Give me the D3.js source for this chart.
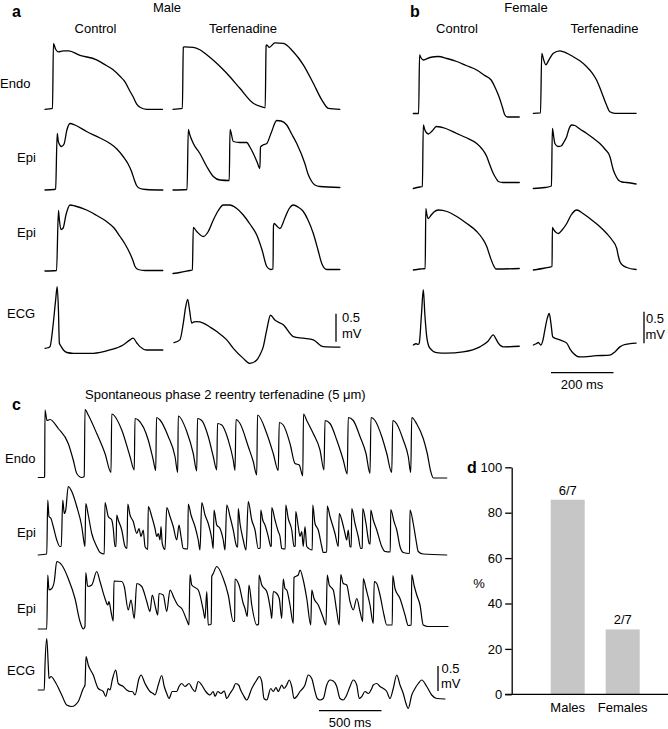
<!DOCTYPE html>
<html><head><meta charset="utf-8">
<script src="https://cdn.jsdelivr.net/npm/d3@7"></script>
<style>
body{margin:0;background:#fff}
text{font-family:"Liberation Sans",Arial,Helvetica,sans-serif;fill:#000}
</style></head><body>
<svg id="c" width="668" height="729"></svg>
<script>
// ---------- DATA (time in ms, membrane potential in mV, ECG in mV) ----------
// Panel a, male
const aCtlEndo=[[0,-85],[24,-83],[27,47],[34,35],[43,30],[58,32],[75,32],[112,23],[165,14],[195,3],[218,-6],[240,-19],[256,-30],[272,-49],[282,-60],[294,-75],[304,-81],[325,-85],[376,-85]];
const aTerfEndo=[[0,-85],[30,-83],[33,39],[36,40],[65,39],[86,34],[108,24],[138,8],[172,-13],[214,-43],[257,-73],[289,-81],[295,-82],[298,42],[300,44],[308,39],[326,48],[353,47],[385,30],[417,4],[449,-33],[476,-66],[497,-83],[534,-85]];
const aCtlEpi1=[[0,-85],[29,-84],[34,-83],[39,28],[43,11],[53,2],[61,7],[70,35],[80,48],[96,45],[133,32],[176,19],[208,8],[230,-3],[250,-18],[266,-33],[277,-48],[286,-65],[293,-76],[304,-82],[323,-84],[377,-85]];
const aTerfEpi1=[[0,-85],[45,-84],[49,36],[54,25],[65,8],[86,-12],[108,-38],[129,-58],[150,-65],[180,-66],[182.5,36],[193,12],[214,10],[236,10],[246,1],[257,-12],[269,-29],[278,-42],[280,1],[288,5],[300,8],[314,29],[332,54],[346,53],[364,45],[378,29],[396,8],[422,-32],[432,-53],[444,-68],[454,-75],[470,-78],[534,-80]];
const aCtlEpi2=[[0,-85],[37,-84],[43,36],[46,17],[51,-2],[58,1],[67,27],[80,47],[96,45],[133,37],[163,27],[197,14],[221,1],[240,-16],[256,-31],[272,-50],[282,-65],[288,-76],[298,-82],[320,-84],[377,-84]];
const aTerfEpi2=[[0,-90],[22,-88],[54,-84],[62,-83],[65,2],[76,-6],[97,-16],[112,-7],[129,17],[144,35],[161,47],[182,47],[202,41],[225,27],[246,9],[268,-13],[285,-43],[300,-76],[312,-82],[320,-81],[321.5,5],[324,10],[332,5],[342,0],[358,21],[371,39],[385,47],[400,43],[417,34],[432,17],[449,-10],[464,-43],[476,-70],[492,-82],[534,-82]];
const aCtlECG=[[0,0],[10,0.01],[16,0.03],[26,0.42],[34,0.86],[39,1.10],[43,0.68],[46,0.09],[51,0.04],[59,-0.03],[70,-0.075],[91,-0.09],[155,-0.09],[208,-0.03],[250,0.06],[272,0.15],[282,0.18],[294,0.095],[304,0.03],[325,-0.03],[377,-0.03]];
const aTerfECG=[[3,0.10],[22,0.15],[33,0.45],[40,0.72],[47,0.875],[53,0.68],[60,0.45],[67,0.47],[76,0.475],[97,0.45],[118,0.38],[140,0.30],[172,0.15],[193,0],[225,-0.18],[246,-0.27],[268,-0.21],[278,-0.12],[289,0.03],[300,0.33],[312,0.59],[326,0.505],[353,0.42],[385,0.21],[417,0.18],[449,0.15],[481,0.03],[534,0.02]];
// Panel b, female
const bCtlEndo=[[1,-78],[18,-78],[21,39],[26,33],[33,29],[54,34],[81,36],[109,32],[140,26],[170,18],[204,9],[227,-1],[250,-11],[262,-25],[275,-44],[286,-65],[294,-81],[302,-85],[340,-85]];
const bTerfEndo=[[1,-85],[24,-84],[28,35],[34,22],[41,12],[51,22],[65,35],[86,40],[106,36],[129,28],[150,20],[172,8],[189,-4],[203,-18],[214,-34],[225,-52],[235,-68],[246,-82],[262,-85],[330,-85]];
const bCtlEpi1=[[1,-90],[22,-87],[30,-86],[33,37],[38,27],[49,19],[61,25],[75,34],[105,30],[140,20],[169,12],[204,0],[221,-11],[236,-26],[246,-43],[257,-60],[266,-70],[273,-76],[288,-78],[340,-78]];
const bTerfEpi1=[[1,-90],[38,-88],[59,-85],[62,30],[66,15],[70,0],[80,-6],[90,-5],[99,3],[108,14],[115,29],[124,37],[134,36],[150,29],[172,20],[192,11],[214,0],[230,-11],[246,-26],[257,-53],[266,-66],[273,-73],[285,-77],[300,-78],[330,-81]];
const bCtlEpi2=[[1,-87],[22,-85],[39,-84],[41,36],[44,25],[49,16],[57,22],[67,29],[81,33],[109,30],[140,20],[170,7],[204,-10],[221,-23],[236,-40],[246,-59],[257,-77],[266,-85],[340,-84]];
const bTerfEpi2=[[1,-87],[38,-83],[61,-80],[62,-2],[67,-7],[74,-12],[81,-14],[93,-7],[108,6],[122,23],[140,33],[160,26],[182,16],[208,3],[236,-14],[253,-27],[268,-44],[273,-59],[278,-70],[288,-78],[300,-82],[330,-86]];
const bCtlECG=[[1,0],[10,0.02],[17,0.01],[20,0.03],[27,0.48],[33,0.88],[38,0.48],[44,0.13],[48,0.02],[54,-0.05],[75,-0.12],[107,-0.13],[160,-0.11],[214,-0.03],[240,0.06],[257,0.16],[265,0.10],[273,0.03],[289,-0.03],[340,-0.02]];
const bTerfECG=[[1,0],[10,0.02],[17,0.04],[25,0],[32,0.08],[38,0.24],[46,0.43],[52,0.50],[58,0.32],[63,0.13],[74,0.10],[86,0.08],[108,0.03],[118,-0.06],[129,-0.13],[150,-0.19],[204,-0.17],[246,-0.16],[262,-0.11],[278,-0.03],[289,0],[330,0.03]];
// Panel c, spontaneous phase 2 reentry
const cEndo=[[2,-84],[50,-84],[53,-82],[56,51],[72,30],[96,32],[162,14],[242,-16],[282,-49],[310,-76],[350,-84],[370,-82],[376,52],[402,41],[470,4],[536,-36],[584,-74],[590,43],[670,11],[736,-42],[770,-69],[776,34],[802,31],[882,-9],[922,-49],[942,-70],[948,36],[976,31],[1042,-2],[1096,-42],[1118,-74],[1122,39],[1190,8],[1242,-36],[1270,-71],[1276,34],[1310,30],[1362,-2],[1402,-42],[1430,-69],[1436,24],[1470,21],[1522,-9],[1562,-49],[1576,-70],[1584,32],[1616,24],[1682,-22],[1722,-52],[1750,-79],[1756,41],[1830,4],[1882,-36],[1922,-70],[1930,26],[1962,21],[2016,-16],[2056,-56],[2090,-59],[2118,-81],[2124,43],[2150,30],[2202,4],[2256,-29],[2288,-69],[2296,30],[2336,24],[2390,-9],[2442,-49],[2474,-77],[2482,36],[2522,30],[2576,-2],[2624,-36],[2656,-76],[2664,36],[2696,30],[2750,-2],[2790,-36],[2830,-74],[2838,30],[2870,23],[2922,-9],[2962,-42],[2982,-74],[2990,36],[3030,23],[3082,-6],[3114,-36],[3142,-72],[3162,-85],[3270,-85]];
const cEpi1=[[2,-85],[70,-83],[78,25],[88,-8],[104,-12],[122,-28],[150,-55],[176,-68],[186,-68],[198,25],[210,-2],[222,5],[242,52],[270,42],[310,12],[350,-28],[370,-62],[376,-68],[382,18],[402,-5],[430,-42],[470,-68],[496,-80],[530,-83],[536,20],[562,-8],[590,-15],[602,-32],[616,-68],[624,-68],[630,-5],[642,-15],[670,-35],[696,-68],[712,-72],[718,17],[736,-5],[762,-18],[790,-42],[808,-32],[824,-48],[842,-35],[856,-68],[878,-74],[882,12],[910,-8],[936,-32],[950,-48],[962,-42],[976,-55],[984,-28],[994,-62],[1016,-74],[1030,10],[1056,-8],[1082,-28],[1110,-55],[1128,-25],[1144,-48],[1162,-72],[1198,-73],[1202,17],[1224,-5],[1256,-28],[1282,-55],[1296,-75],[1310,20],[1336,-5],[1362,-22],[1390,-52],[1402,-72],[1408,5],[1430,-25],[1456,-32],[1482,-55],[1496,-75],[1510,15],[1536,-8],[1562,-35],[1590,-68],[1598,-69],[1602,8],[1616,-22],[1642,-55],[1664,-75],[1682,22],[1710,-15],[1736,-35],[1762,-72],[1778,-71],[1782,5],[1798,-15],[1816,-25],[1842,-48],[1862,-68],[1866,-67],[1870,10],[1896,-15],[1922,-38],[1936,-48],[1950,-72],[1978,-73],[1982,15],[2002,-12],[2030,-35],[2048,-68],[2058,-67],[2062,2],[2082,-28],[2096,-48],[2110,-38],[2122,-68],[2136,-28],[2150,-68],[2194,-75],[2198,15],[2216,-22],[2242,-35],[2270,-68],[2282,-80],[2310,-79],[2314,13],[2336,-8],[2376,-42],[2402,-68],[2410,-2],[2430,-15],[2456,-42],[2470,-55],[2482,-35],[2496,-68],[2506,-69],[2510,8],[2536,-22],[2562,-48],[2582,-72],[2594,-71],[2598,8],[2624,-22],[2650,-62],[2658,-63],[2662,5],[2682,-15],[2710,-35],[2750,-68],[2776,-78],[2818,-79],[2822,6],[2848,-18],[2870,-35],[2896,-68],[2922,-80],[2972,-82],[2976,5],[3002,-22],[3024,-55],[3042,-78],[3082,-83],[3270,-85]];
const cEpi2=[[2,-85],[70,-85],[78,23],[88,-7],[110,-4],[130,10],[150,50],[190,43],[242,16],[296,-24],[336,-70],[362,-85],[376,-80],[382,28],[398,0],[430,3],[470,30],[496,10],[536,-24],[558,-37],[568,-30],[584,-50],[602,-69],[608,11],[670,10],[690,0],[722,-47],[744,-27],[770,-64],[790,6],[830,0],[870,-30],[896,-50],[914,-17],[942,-44],[958,-57],[968,-14],[1002,-17],[1030,-50],[1056,-7],[1090,-24],[1118,-37],[1150,-44],[1190,-67],[1208,-77],[1216,24],[1230,3],[1282,-7],[1322,-47],[1336,-64],[1350,-10],[1362,-77],[1386,-75],[1390,20],[1402,26],[1430,40],[1482,16],[1522,-17],[1562,-70],[1573,-69],[1576,15],[1608,3],[1642,-34],[1656,-44],[1674,-60],[1688,3],[1710,-37],[1750,-77],[1765,-75],[1768,23],[1790,3],[1830,-10],[1862,-50],[1870,-64],[1882,-10],[1910,-14],[1930,-24],[1950,-64],[1962,15],[1976,-4],[1990,-7],[2016,-37],[2042,-74],[2048,18],[2082,23],[2096,33],[2122,13],[2150,-24],[2182,-77],[2190,-7],[2208,-24],[2242,-37],[2278,-60],[2304,-77],[2314,23],[2330,3],[2362,-7],[2390,-50],[2410,-77],[2422,24],[2442,6],[2470,3],[2496,-30],[2522,-47],[2550,-24],[2576,-50],[2598,-70],[2602,16],[2624,-4],[2656,-37],[2682,-74],[2690,10],[2710,6],[2736,-17],[2768,-57],[2790,-77],[2834,-77],[2838,22],[2856,-4],[2896,-24],[2936,-57],[2962,-78],[2986,-77],[2990,24],[3008,3],[3030,-17],[3056,-37],[3082,-77],[3122,-80],[3280,-80]];
const cECG=[[2,0],[50,0],[56,0.50],[70,1.03],[82,0.50],[88,0.23],[104,0.27],[136,0.17],[190,-0.10],[230,-0.30],[270,-0.33],[322,-0.23],[362,0.03],[376,0.10],[384,0.67],[402,0.50],[442,0.30],[482,0.03],[522,-0.03],[542,-0.13],[562,0.03],[576,0],[594,0.20],[622,0.40],[642,0.13],[682,0.07],[710,0],[736,-0.03],[754,-0.03],[776,-0.10],[808,0.23],[824,0.30],[856,0.13],[896,-0.03],[922,-0.07],[936,-0.10],[962,0.10],[990,0.29],[1010,0.07],[1030,-0.07],[1048,-0.17],[1074,-0.03],[1110,-0.03],[1128,0.07],[1150,0.13],[1176,0.07],[1208,0.13],[1234,0.03],[1256,-0.03],[1282,0.17],[1310,0.10],[1342,-0.03],[1376,-0.10],[1402,-0.03],[1416,-0.13],[1438,-0.03],[1464,-0.07],[1490,-0.02],[1510,-0.17],[1536,-0.07],[1562,0.03],[1582,0.13],[1608,0.09],[1616,0.03],[1642,-0.10],[1670,-0.20],[1710,0.03],[1750,0.20],[1770,0.27],[1790,0.17],[1808,-0.17],[1830,-0.20],[1862,0.03],[1882,-0.03],[1904,0.05],[1922,-0.03],[1950,0.10],[1968,0.03],[1990,0.10],[2010,0.20],[2030,0.07],[2048,-0.17],[2070,-0.13],[2096,-0.03],[2136,0.10],[2162,0.30],[2190,0.23],[2216,-0.03],[2234,-0.17],[2256,-0.20],[2282,-0.17],[2310,0.10],[2336,0.20],[2362,0.18],[2390,0.07],[2416,-0.17],[2442,-0.20],[2464,-0.13],[2496,0.07],[2522,0.20],[2550,0.10],[2570,-0.17],[2590,-0.13],[2616,-0.03],[2642,-0.07],[2670,0.03],[2682,0.10],[2710,0.13],[2736,0.07],[2762,0.03],[2790,-0.03],[2816,-0.17],[2842,0.03],[2870,0.30],[2896,0.10],[2922,-0.07],[2944,-0.27],[2962,-0.37],[2990,-0.10],[3016,0.03],[3042,0.13],[3070,0.20],[3110,0.07],[3150,-0.10],[3190,-0.17],[3256,-0.18]];
// Panel d
const dCategories=["Males","Females"];
const dCounts=[6,2];
const dTotals=[7,7];
const dTicks=[0,20,40,60,80,100];

// ---------- DRAWING ----------
const svg=d3.select("#c");
const FONT=13;
const FAM="Liberation Sans, Arial, Helvetica, sans-serif";
const line=(xs,ys)=>d3.line().x(d=>xs(d[0])).y(d=>ys(d[1])).curve(d3.curveMonotoneX);
function trace(data,xs,ys,w){
  svg.append("path").attr("d",line(xs,ys)(data)).attr("fill","none").attr("stroke","#000")
    .attr("stroke-width",w||1.3).attr("stroke-linejoin","round").attr("stroke-linecap","round");
}
function txt(x,y,s,opt){
  opt=opt||{};
  const t=svg.append("text").attr("x",x).attr("y",y).text(s).style("font-size",(opt.size||FONT)+"px");
  if(opt.anchor)t.attr("text-anchor",opt.anchor);
  if(opt.bold)t.style("font-weight","bold");
  return t;
}
// scales for panels a,b: 3.2 ms per px ; AP 2 mV per px
const tScaleAB=x0=>d3.scaleLinear().domain([0,1000]).range([x0,x0+1000/3.2]);
const apScale=base=>d3.scaleLinear().domain([-85,45]).range([base,base-65]);
const ecgScale=(base,pxPerMv)=>d3.scaleLinear().domain([0,1]).range([base,base-pxPerMv]);

const colA=[45,173], colB=[413,533];
// Panel a
trace(aCtlEndo,tScaleAB(colA[0]),apScale(109.3));
trace(aTerfEndo,tScaleAB(colA[1]),apScale(109.3));
trace(aCtlEpi1,tScaleAB(colA[0]),apScale(190));
trace(aTerfEpi1,tScaleAB(colA[1]),apScale(190));
trace(aCtlEpi2,tScaleAB(colA[0]),apScale(271));
trace(aTerfEpi2,tScaleAB(colA[1]),apScale(271));
const ecgA=ecgScale(348.3,56);
trace(aCtlECG,tScaleAB(colA[0]),ecgA);
trace(aTerfECG,tScaleAB(colA[1]),ecgA);
// Panel b
trace(bCtlEndo,tScaleAB(colB[0]),apScale(117));
trace(bTerfEndo,tScaleAB(colB[1]),apScale(113.3));
trace(bCtlEpi1,tScaleAB(colB[0]),apScale(186));
trace(bTerfEpi1,tScaleAB(colB[1]),apScale(186));
trace(bCtlEpi2,tScaleAB(colB[0]),apScale(269));
trace(bTerfEpi2,tScaleAB(colB[1]),apScale(269));
const ecgB=ecgScale(345,63);
trace(bCtlECG,tScaleAB(colB[0]),ecgB);
trace(bTerfECG,tScaleAB(colB[1]),ecgB);

// Panel c: 8 ms per px
const tC=d3.scaleLinear().domain([0,1000]).range([38,38+125]);
trace(cEndo,tC,apScale(478),1.2);
trace(cEpi1,tC,apScale(555),1.2);
trace(cEpi2,tC,apScale(629),1.2);
const ecgC=ecgScale(690,50);
trace(cECG,tC,ecgC,1.2);

// scale bars
function vbar(x,yBottom,len){svg.append("line").attr("x1",x).attr("x2",x).attr("y1",yBottom).attr("y2",yBottom-len).attr("stroke","#000").attr("stroke-width",1.3);}
function hbar(x,y,len){svg.append("line").attr("x1",x).attr("x2",x+len).attr("y1",y).attr("y2",y).attr("stroke","#000").attr("stroke-width",1.3);}
const mv05=s=>s(0)-s(0.5);
vbar(336,341.7,mv05(ecgA)); txt(342,322,"0.5"); txt(342,338,"mV");
vbar(644,343.3,mv05(ecgB)); txt(646,323,"0.5"); txt(645.5,339,"mV");
const tb=tScaleAB(0); hbar(551,372.7,tb(200)-tb(0)); txt(582,389,"200 ms",{anchor:"middle"});
vbar(438,691,mv05(ecgC)); txt(441.5,673,"0.5"); txt(441,688,"mV");
hbar(319,710.7,tC(500)-tC(0)); txt(350,727,"500 ms",{anchor:"middle"});

// labels panel a/b
txt(12,17,"a",{bold:true,size:16});
txt(167,12,"Male",{anchor:"middle"});
txt(95.5,33,"Control",{anchor:"middle"});
txt(243,33,"Terfenadine",{anchor:"middle"});
txt(410,17,"b",{bold:true,size:16});
txt(526,12,"Female",{anchor:"middle"});
txt(457,33,"Control",{anchor:"middle"});
txt(604.5,33,"Terfenadine",{anchor:"middle"});
txt(0,88,"Endo"); txt(17,162,"Epi"); txt(17,237,"Epi"); txt(7,318,"ECG");
// labels panel c
txt(12,410,"c",{bold:true,size:16});
txt(85,399,"Spontaneous phase 2 reentry terfenadine (5 \u03bcm)");
txt(5,463,"Endo"); txt(17,537,"Epi"); txt(17,613,"Epi"); txt(7,675,"ECG");

// Panel d bar chart
const yD=d3.scaleLinear().domain([0,100]).range([694.3,467.3]);
const xD=d3.scaleBand().domain(dCategories).range([533.7,656.7]).paddingInner(0.382).paddingOuter(0.309);
const pct=dCounts.map((c,i)=>c/dTotals[i]*100);
svg.selectAll("rect.bar").data(dCategories).enter().append("rect").attr("class","bar")
  .attr("x",d=>xD(d)).attr("width",xD.bandwidth())
  .attr("y",(d,i)=>yD(pct[i])).attr("height",(d,i)=>yD(0)-yD(pct[i])).attr("fill","#c6c6c6");
svg.selectAll("text.frac").data(dCategories).enter().append("text").attr("class","frac")
  .attr("x",d=>xD(d)+xD.bandwidth()/2).attr("y",(d,i)=>yD(pct[i])-5).attr("text-anchor","middle")
  .style("font-size",FONT+"px").text((d,i)=>dCounts[i]+"/"+dTotals[i]);
const ax=svg.append("g").attr("transform","translate(511.7,0)")
  .call(d3.axisLeft(yD).tickValues(dTicks).tickSize(6.5).tickSizeOuter(0).tickPadding(3).tickFormat(d3.format("d")));
ax.selectAll("path,line").attr("stroke","#000").attr("stroke-width",1.3);
ax.selectAll("text").style("font-size",FONT+"px").style("font-family",FAM);
svg.append("line").attr("x1",505).attr("x2",668).attr("y1",yD(0)).attr("y2",yD(0)).attr("stroke","#000").attr("stroke-width",1.3);
svg.selectAll("text.cat").data(dCategories).enter().append("text").attr("class","cat")
  .attr("x",d=>xD(d)+xD.bandwidth()/2).attr("y",712).attr("text-anchor","middle").style("font-size",FONT+"px").text(d=>d);
txt(479,588,"%",{anchor:"middle"});
txt(467,473,"d",{bold:true,size:16});
</script></body></html>
